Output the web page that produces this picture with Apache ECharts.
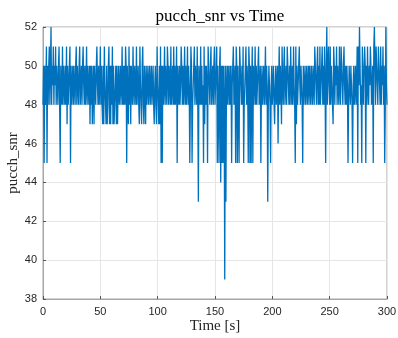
<!DOCTYPE html>
<html><head><meta charset="utf-8">
<script src="https://cdn.jsdelivr.net/npm/echarts@6/dist/echarts.min.js"></script>
<style>html,body{margin:0;padding:0;background:#fff}#c{width:398px;height:338px}</style>
</head><body><div id="c"></div>
<script>
const titleText = 'pucch_snr vs Time';
const xName = 'Time [s]';
const yName = 'pucch_snr';
const sampleStep = 0.5; // seconds between samples
const xTicks = [0, 50, 100, 150, 200, 250, 300];
const yTicks = [38, 40, 42, 44, 46, 48, 50, 52];
const snr = [
48,50,45,50,48,49,51,45,50,48, 50,51,48,50,52,48,50,49,51,48,
50,49,51,48,50,49,48,50,51,48, 45,50,49,48,51,48,50,49,48,50,
48,51,47,50,48,49,50,51,45,50, 48,49,50,48,50,49,48,50,51,48,
50,49,48,50,51,48,49,50,48,50, 51,49,48,50,48,49,51,48,50,49,
48,50,47,50,48,50,47,49,50,47, 50,49,48,50,51,49,48,50,48,49,
51,48,50,48,47,50,47,51,49,48, 47,50,47,48,50,51,47,50,47,50,
48,51,47,50,47,48,49,50,47,50, 47,49,50,48,49,50,48,49,51,48,
50,48,50,48,51,50,45,50,48,47, 51,48,50,47,50,49,48,51,49,48,
50,49,48,51,48,49,50,48,47,51, 49,48,47,50,51,48,47,50,49,47,
50,48,49,50,48,49,50,48,49,50, 48,49,50,48,47,49,50,48,47,51,
49,48,47,50,47,51,45,50,45,50, 48,49,51,48,50,49,48,51,50,48,
50,49,48,51,48,49,50,48,51,48, 50,48,49,51,45,50,49,48,50,48,
49,51,50,48,50,48,49,51,48,50, 48,49,51,48,50,49,45,48,51,50,
45,48,49,50,51,48,50,49,48,51, 48,43,50,49,48,51,48,50,48,49,
45,51,47,50,48,50,49,45,51,50, 49,48,50,51,48,49,50,48,50,51,
48,49,50,51,45,50,48,45,50,51, 44,50,45,50,45,50,48,39,50,43,
49,50,48,50,49,48,50,48,50,45, 49,50,51,48,49,50,45,51,50,45,
50,48,45,51,50,49,48,50,48,51, 45,48,49,50,51,48,50,49,45,51,
50,45,50,45,49,51,45,50,48,49, 51,48,50,48,49,50,51,48,49,50,
45,49,50,48,49,50,48,49,51,48, 50,49,43,48,50,49,48,45,49,50,
48,49,50,48,47,49,50,48,49,50, 46,49,51,48,50,49,47,51,49,48,
50,51,48,49,50,48,51,50,49,48, 50,48,51,49,48,50,48,51,49,48,
45,51,47,50,48,49,50,51,49,48, 50,49,48,45,50,48,49,50,48,49,
50,48,49,50,48,50,49,48,50,49, 48,50,49,48,51,50,49,48,50,51,
48,50,48,51,48,49,50,51,48,50, 48,51,49,45,50,52,48,50,51,49,
48,51,48,50,49,48,47,51,50,48, 50,49,51,48,50,49,48,51,49,48,
51,50,49,48,50,51,49,48,50,48, 50,49,45,48,50,49,48,50,49,48,
45,49,50,48,49,50,48,49,51,45, 51,49,52,50,48,49,45,51,49,48,
50,51,50,45,50,48,51,49,48,50, 49,51,50,48,49,50,45,51,52,50,
48,51,50,49,48,51,50,49,48,51, 48,50,49,51,48,50,45,48,52,49,
48
];

const seriesData = snr.map((v, i) => [i * sampleStep, v]);

const chart = echarts.init(document.getElementById('c'), null, {renderer: 'canvas'});
const labelFont = {fontFamily: 'Liberation Sans, Arial, sans-serif', fontSize: 11, color: '#262626'};
chart.setOption({
  animation: false,
  backgroundColor: '#ffffff',
  title: {
    text: titleText, left: 215, top: 3, textAlign: 'center',
    textStyle: {fontFamily: 'Liberation Serif, serif', fontWeight: 'normal', fontSize: 17, color: '#000'}
  },
  grid: {left: 43, right: 11, top: 27, bottom: 39, outerBoundsMode: 'none', containLabel: false,
         show: true, borderColor: '#a6a6a6', borderWidth: 1, backgroundColor: 'transparent'},
  xAxis: {
    type: 'value', min: 0, max: 300, interval: 50,
    name: xName, nameLocation: 'middle', nameGap: 20, nameMoveOverlap: false,
    nameTextStyle: {fontFamily: 'Liberation Serif, serif', fontSize: 15, color: '#262626', verticalAlign: 'top'},
    axisLine: {show: true, lineStyle: {color: '#a6a6a6', width: 1}},
    axisTick: {show: true, inside: true, length: 3, lineStyle: {color: '#555'}},
    axisLabel: Object.assign({margin: 7, formatter: v => xTicks.includes(v) ? String(v) : ''}, labelFont),
    splitLine: {show: true, lineStyle: {color: '#e6e6e6', width: 1}}
  },
  yAxis: {
    type: 'value', min: 38, max: 52, interval: 2,
    name: yName, nameLocation: 'middle', nameGap: 22, nameMoveOverlap: false,
    nameTextStyle: {fontFamily: 'Liberation Serif, serif', fontSize: 15, color: '#262626', verticalAlign: 'bottom'},
    axisLine: {show: true, lineStyle: {color: '#a6a6a6', width: 1}},
    axisTick: {show: true, inside: true, length: 3, lineStyle: {color: '#555'}},
    axisLabel: Object.assign({margin: 6, formatter: v => yTicks.includes(v) ? String(v) : ''}, labelFont),
    splitLine: {show: true, lineStyle: {color: '#e6e6e6', width: 1}}
  },
  series: [{
    type: 'line', data: seriesData, showSymbol: false, symbol: 'none',
    lineStyle: {color: '#0072BD', width: 1.3}, silent: true
  }]
});
</script></body></html>
